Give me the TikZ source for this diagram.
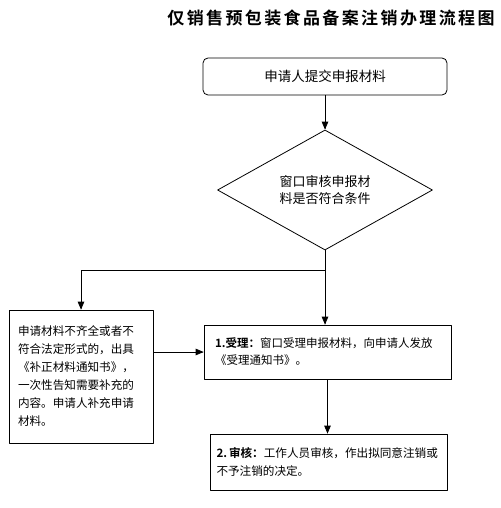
\documentclass[tikz,border=0pt]{standalone}
\usepackage{fontspec}
\setmainfont{Noto Sans CJK SC}[BoldFont={Noto Sans CJK SC Bold}]
\usetikzlibrary{arrows}
\usetikzlibrary{shapes.geometric}

\begin{document}
\begin{tikzpicture}[x=1pt,y=-1pt,line cap=round,line join=round,>=triangle 45]
\tikzset{box/.style={draw,line width=0.8pt,inner sep=0pt,align=left,font=\fontsize{11.6}{18}\selectfont}}
\useasboundingbox (0,0) rectangle (500,508);
% title
\node[font=\bfseries\fontsize{17}{18}\selectfont\addfontfeature{LetterSpace=14}] (title) at (331,18) {仅销售预包装食品备案注销办理流程图};
% steps
\node[box,rounded corners=5pt,align=center,minimum width=244pt,minimum height=37pt,font=\fontsize{13.5}{16}\selectfont] (submit) at (325,76.5) {申请人提交申报材料};
\node[box,diamond,align=center,minimum width=215pt,minimum height=86pt,font=\fontsize{13}{17}\selectfont] (check) at (325,190) {窗口审核申报材\\料是否符合条件};
\node[box,minimum width=144pt,minimum height=133pt,text width=126pt] (fix) at (81,376.5) {申请材料不齐全或者不\\符合法定形式的，出具\\《补正材料通知书》，\\一次性告知需要补充的\\内容。申请人补充申请\\材料。};
\node[box,minimum width=247pt,minimum height=54pt,text width=225pt,font=\fontsize{11.5}{17}\selectfont] (accept) at (327.5,352) {\textbf{1.受理：}窗口受理申报材料，向申请人发放\\《受理通知书》。};
\node[box,minimum width=237pt,minimum height=56pt,text width=224pt] (review) at (328.5,462) {\mbox{\textbf{2.\,审核：}工作人员审核，作出拟同意注销或}\\不予注销的决定。};
% connectors
\coordinate (split) at (check.south |- 0,270.5);
\draw[->,line width=0.8pt] (submit) -- (check);
\draw[->,line width=0.8pt] (check.south) -- (check.south |- accept.north);
\draw[->,line width=0.8pt] (split) -| (fix.north);
\draw[->,line width=0.8pt] (fix.east |- accept) -- (accept.west);
\draw[->,line width=0.8pt] (accept) -- (accept |- review.north);
\end{tikzpicture}
\end{document}
